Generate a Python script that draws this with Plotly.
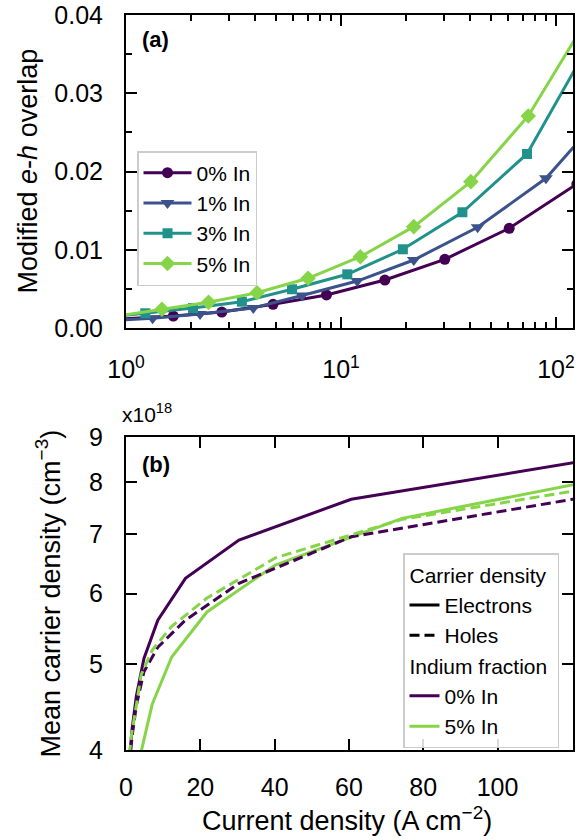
import plotly.graph_objects as go

# ---------------- data ----------------
# Panel (a): modified e-h overlap vs current density (A cm^-2)
J_0 = [0.9, 1.66, 2.79, 4.83, 8.56, 16.0, 30.4, 60.6, 125]
overlap_0 = [0.00110, 0.00153, 0.00204, 0.00303, 0.00422, 0.00613, 0.00878, 0.01274, 0.0184]

J_1 = [0.8, 1.33, 2.21, 3.91, 6.59, 11.9, 21.8, 43.2, 89.8, 138]
overlap_1 = [0.00090, 0.00124, 0.00179, 0.00256, 0.00415, 0.00600, 0.00869, 0.01287, 0.01913, 0.0249]

J_3 = [0.75, 1.23, 2.05, 3.46, 5.92, 10.7, 19.4, 36.7, 73.3, 135]
overlap_3 = [0.00124, 0.00188, 0.00256, 0.00336, 0.00495, 0.00686, 0.01006, 0.01479, 0.02224, 0.0351]

J_5 = [0.9, 1.47, 2.42, 4.07, 7.03, 12.3, 21.8, 40.2, 74.3, 139]
overlap_5 = [0.00150, 0.00239, 0.00328, 0.00451, 0.00635, 0.00911, 0.01295, 0.0187, 0.0271, 0.0394]

# Panel (b): mean carrier density (x1e18 cm^-3)
electrons_0 = [3.90, 4.23, 4.60, 5.07, 5.60, 6.24, 6.89, 7.66, 8.48]
holes_0 = [3.85, 4.15, 4.49, 4.90, 5.22, 5.60, 6.16, 6.95, 7.72]
electrons_5 = [3.45, 3.55, 3.72, 3.98, 4.50, 5.09, 5.72, 6.46, 7.29, 8.24]
holes_5 = [3.95, 4.16, 4.39, 4.86, 5.18, 5.51, 5.93, 6.58, 7.27, 8.06]

series_labels = ["0% In", "1% In", "3% In", "5% In"]
colors = ["#440154", "#3b528b", "#21918c", "#86d549"]

top_x_ticks = [1, 10, 100]
top_x_ticktext = ["10<sup>0</sup>", "10<sup>1</sup>", "10<sup>2</sup>"]
top_y_ticks = [0.0, 0.01, 0.02, 0.03, 0.04]
top_y_ticktext = ["0.00", "0.01", "0.02", "0.03", "0.04"]
bot_x_ticks = [0, 20, 40, 60, 80, 100]
bot_y_ticks = [4, 5, 6, 7, 8, 9]

# ---------------- figure ----------------
W, H = 588, 840
FONT = "Liberation Sans, Arial, sans-serif"
TICK_SIZE = 25
TITLE_SIZE = 27
LEG_SIZE = 21

def px_x(p):
    return p / W

def px_y(p):
    return 1 - p / H

fig = go.Figure()

symbols = ["circle", "triangle-down", "square", "diamond"]
msizes = [11, 12, 10, 12]
top_x = [J_0, J_1, J_3, J_5]
top_y = [overlap_0, overlap_1, overlap_3, overlap_5]
for i in range(4):
    fig.add_trace(go.Scatter(
        x=top_x[i], y=top_y[i], mode="lines+markers", name=series_labels[i],
        line=dict(color=colors[i], width=3),
        marker=dict(symbol=symbols[i], size=msizes[i], color=colors[i]),
        xaxis="x", yaxis="y", legend="legend", cliponaxis=True,
    ))

# bottom panel lines
dash = "10px,5px"
fig.add_trace(go.Scatter(x=J_0, y=electrons_0, mode="lines", showlegend=False,
                         line=dict(color=colors[0], width=3), xaxis="x2", yaxis="y2"))
fig.add_trace(go.Scatter(x=J_5, y=electrons_5, mode="lines", showlegend=False,
                         line=dict(color=colors[3], width=3), xaxis="x2", yaxis="y2"))
fig.add_trace(go.Scatter(x=J_0, y=holes_0, mode="lines", showlegend=False,
                         line=dict(color=colors[0], width=3, dash=dash), xaxis="x2", yaxis="y2"))
fig.add_trace(go.Scatter(x=J_5, y=holes_5, mode="lines", showlegend=False,
                         line=dict(color=colors[3], width=3, dash=dash), xaxis="x2", yaxis="y2"))

# legend-only entries for bottom panel
fig.add_trace(go.Scatter(x=[None], y=[None], mode="lines", name="Electrons",
                         line=dict(color="black", width=3), xaxis="x2", yaxis="y2",
                         legend="legend2", legendgroup="cd",
                         legendgrouptitle=dict(text="Carrier density", font=dict(size=LEG_SIZE))))
fig.add_trace(go.Scatter(x=[None], y=[None], mode="lines", name="Holes",
                         line=dict(color="black", width=3, dash=dash), xaxis="x2", yaxis="y2",
                         legend="legend2", legendgroup="cd"))
fig.add_trace(go.Scatter(x=[None], y=[None], mode="lines", name="0% In",
                         line=dict(color=colors[0], width=3), xaxis="x2", yaxis="y2",
                         legend="legend2", legendgroup="in",
                         legendgrouptitle=dict(text="Indium fraction", font=dict(size=LEG_SIZE))))
fig.add_trace(go.Scatter(x=[None], y=[None], mode="lines", name="5% In",
                         line=dict(color=colors[3], width=3), xaxis="x2", yaxis="y2",
                         legend="legend2", legendgroup="in"))

xdom = [px_x(126), px_x(573)]
axis_common = dict(
    showline=True, linecolor="black", linewidth=2, mirror="ticks",
    ticks="inside", ticklen=11, tickwidth=2, tickcolor="black",
    showgrid=False, zeroline=False, automargin=False, ticklabeloverflow="allow",
    tickfont=dict(size=TICK_SIZE, color="black", family=FONT),
)

fig.update_layout(
    width=W, height=H,
    margin=dict(l=0, r=0, t=0, b=0, autoexpand=False),
    paper_bgcolor="white", plot_bgcolor="white",
    font=dict(family=FONT, color="black"),
    xaxis=dict(domain=xdom, anchor="y", type="log", range=[0, 2.0792],
               tickvals=top_x_ticks, ticktext=top_x_ticktext, ticklabelstandoff=18,
               minor=dict(ticks="inside", ticklen=6, tickwidth=1.5, tickcolor="black",
                          tickvals=[2, 3, 4, 5, 6, 7, 8, 9, 20, 30, 40, 50, 60, 70, 80, 90]),
               **axis_common),
    yaxis=dict(domain=[px_y(328), px_y(15)], anchor="x", range=[0, 0.04],
               tickvals=top_y_ticks, ticktext=top_y_ticktext, ticklabelstandoff=16,
               minor=dict(ticks="inside", ticklen=6, tickwidth=1.5, tickcolor="black", dtick=0.005),
               **axis_common),
    xaxis2=dict(domain=xdom, anchor="y2", range=[0, 120.3],
                tickvals=bot_x_ticks, ticklabelstandoff=14, **axis_common),
    yaxis2=dict(domain=[px_y(750), px_y(437)], anchor="x2", type="log",
                range=[0.60206, 0.95424], tickvals=bot_y_ticks, ticklabelstandoff=16,
                **axis_common),
    legend=dict(x=px_x(137), y=px_y(151), xanchor="left", yanchor="top",
                font=dict(size=LEG_SIZE, family=FONT, color="black"), itemwidth=48,
                bgcolor="rgba(255,255,255,0.85)", bordercolor="#cccccc", borderwidth=1.5),
    legend2=dict(x=px_x(403), y=px_y(553), xanchor="left", yanchor="top",
                 font=dict(size=LEG_SIZE, family=FONT, color="black"),
                 bgcolor="rgba(255,255,255,0.85)", bordercolor="#cccccc", borderwidth=1.5,
                 tracegroupgap=0, traceorder="grouped"),
    showlegend=True,
)

annotations = [
    dict(text="<b>(a)</b>", x=px_x(140), y=px_y(39), xanchor="left", yanchor="middle",
         font=dict(size=22)),
    dict(text="<b>(b)</b>", x=px_x(140), y=px_y(464), xanchor="left", yanchor="middle",
         font=dict(size=22)),
    dict(text="Modified <i>e</i>-<i>h</i> overlap", x=px_x(28), y=px_y(171.5), textangle=-90,
         xanchor="center", yanchor="middle", font=dict(size=TITLE_SIZE)),
    dict(text="Mean carrier density (cm<sup>−3</sup>)", x=px_x(48), y=px_y(593.5), textangle=-90,
         xanchor="center", yanchor="middle", font=dict(size=TITLE_SIZE)),
    dict(text="Current density (A cm<sup>−2</sup>)", x=px_x(347), y=px_y(819),
         xanchor="center", yanchor="middle", font=dict(size=TITLE_SIZE)),
    dict(text="x10<sup>18</sup>", x=px_x(120), y=px_y(428), xanchor="left", yanchor="bottom",
         font=dict(size=21)),
]
for a in annotations:
    a.update(xref="paper", yref="paper", showarrow=False)
    a["font"].update(family=FONT, color="black")
fig.update_layout(annotations=annotations)

fig.write_html("out.html", config={"displayModeBar": False},
               post_script="document.body.style.margin='0';")
